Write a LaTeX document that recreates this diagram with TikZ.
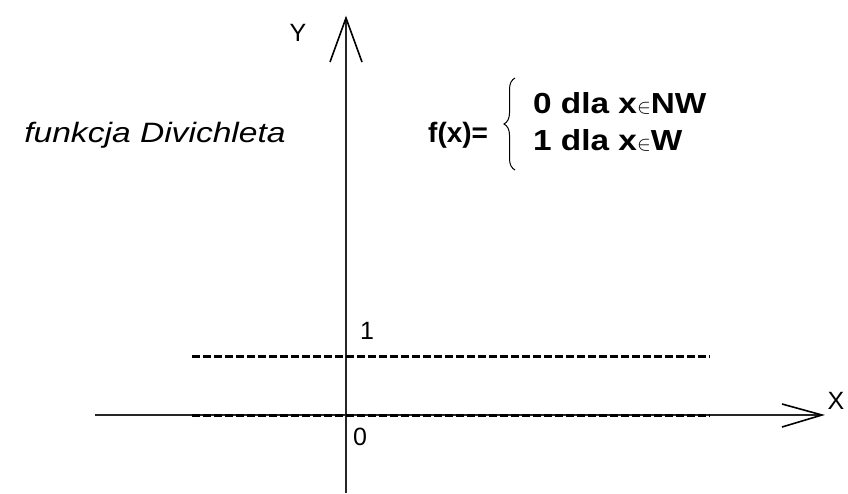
\documentclass[tikz,border=0pt]{standalone}
\usepackage{fontspec}
\setmainfont{Liberation Sans}
\newfontfamily\widesans{Liberation Sans}[FakeStretch=1.2]
\newfontfamily\boldwide{Liberation Sans}[FakeStretch=1.15]
\usetikzlibrary{decorations.pathreplacing}

\begin{document}
\begin{tikzpicture}[x=1pt, y=-1pt,
    axis/.style={line width=1.4pt, draw=black!85},
    tipline/.style={line width=1.6pt},
    level/.style={line width=3pt, dash pattern=on 8pt off 3pt},
    lbl/.style={font=\fontsize{25}{28}\selectfont, inner sep=0pt},
    formula/.style={font=\fontsize{29}{34}\selectfont\boldwide\bfseries, inner sep=0pt, anchor=base west}]
  \useasboundingbox (0,0) rectangle (848,493);
  % axes
  \coordinate (ybot) at (346,493);
  \coordinate (ytop) at (346,18);
  \coordinate (xleft) at (95,415);
  \coordinate (xright) at (822,415);
  \coordinate (ytipl) at (330,62);
  \coordinate (ytipr) at (362,62);
  \coordinate (xtipu) at (782,404);
  \coordinate (xtipd) at (782,427);
  \draw[axis] (ybot) -- (ytop);
  \draw[axis] (xleft) -- (xright);
  \draw[tipline] (ytipl) -- (ytop) -- (ytipr);
  \draw[tipline] (xtipu) -- (xright) -- (xtipd);
  \node[lbl] (ylab) at (298,33) {Y};
  \node[lbl] (xlab) at (836,401) {X};
  % levels 0 and 1
  \coordinate (onel) at (192,356);
  \coordinate (oner) at (710,356);
  \coordinate (zerol) at (192,415);
  \coordinate (zeror) at (710,415);
  \draw[level] (onel) -- (oner);
  \draw[level] (zerol) -- (zeror);
  \node[lbl] (one) at (367,331) {1};
  \node[lbl] (zero) at (360,437) {0};
  % title and formula
  \node[lbl, font=\fontsize{28}{30}\selectfont\widesans\itshape, anchor=base] (title) at (155,142) {funkcja Divichleta};
  \node[formula, font=\fontsize{28}{34}\selectfont\bfseries] (fx) at (428,142) {f(x)=};
  \draw[line width=1pt, decorate, decoration={brace, amplitude=11pt}] (515,170) -- (515,78);
  \node[formula] (row0) at (533,113) {0 dla x{\fontsize{22}{22}\selectfont$\in$}NW};
  \node[formula] (row1) at (533,150) {1 dla x{\fontsize{22}{22}\selectfont$\in$}W};
\end{tikzpicture}
\end{document}
